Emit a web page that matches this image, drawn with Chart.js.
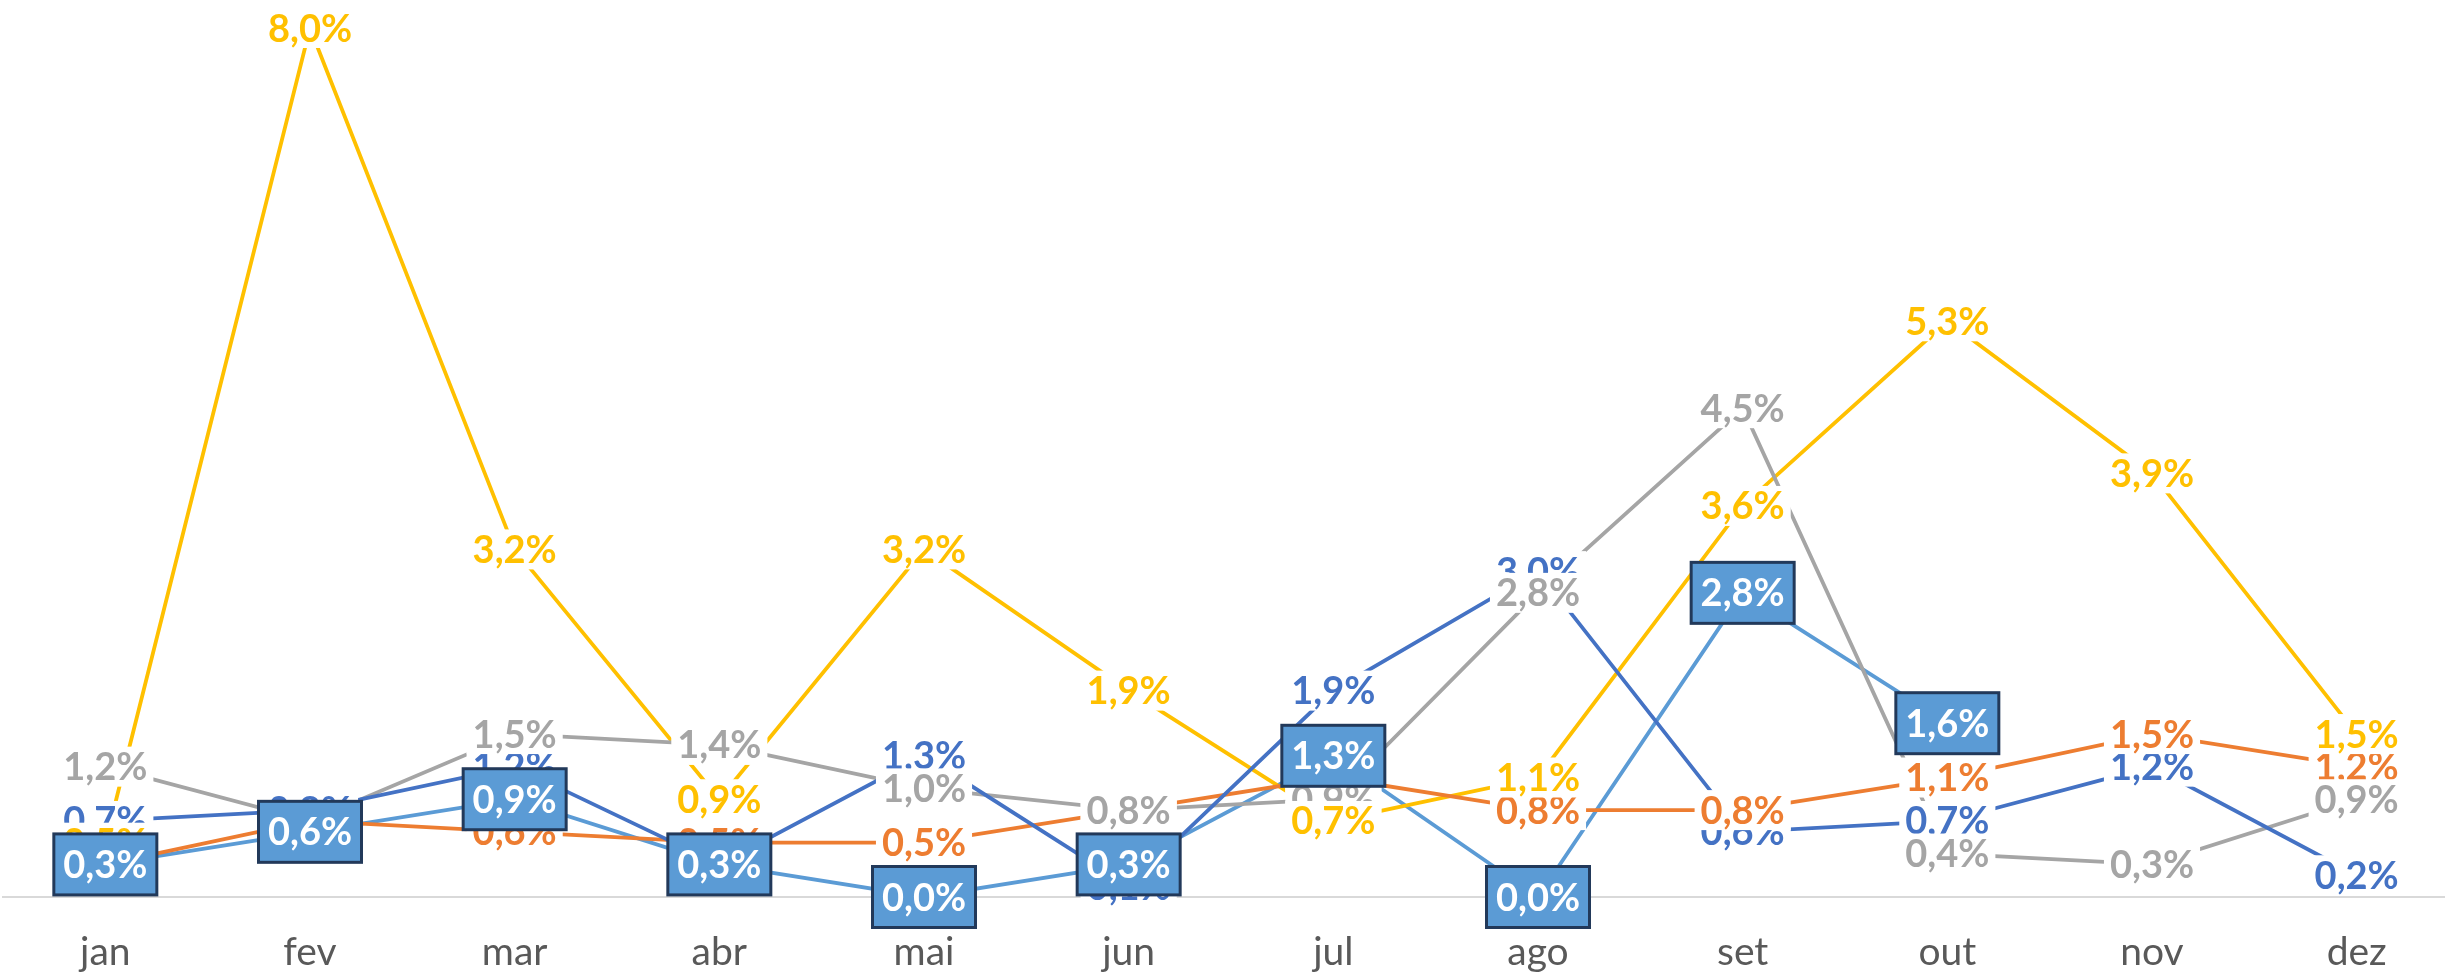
<!DOCTYPE html>
<html lang="pt">
<head>
  <meta charset="UTF-8" />
  <title>Variação mensal</title>
  <script src="https://cdn.jsdelivr.net/npm/chart.js"></script>
  <style>
    html, body {
      margin: 0;
      padding: 0;
      background: #ffffff;
      overflow: hidden;
    }
    #grafico {
      display: block;
    }
  </style>
</head>
<body>
  <canvas id="grafico" width="2462" height="973" style="width:2462px;height:973px"></canvas>

<script>
  // dados (em %)
  const meses = ["jan", "fev", "mar", "abr", "mai", "jun", "jul", "ago", "set", "out", "nov", "dez"];
  const serieAzul = [0.7, 0.8, 1.2, 0.3, 1.3, 0.1, 1.9, 3.0, 0.6, 0.7, 1.2, 0.2];
  const serieLaranja = [0.3, 0.7, 0.6, 0.5, 0.5, 0.8, 1.1, 0.8, 0.8, 1.1, 1.5, 1.2];
  const serieCinza = [1.2, 0.7, 1.5, 1.4, 1.0, 0.8, 0.9, 2.8, 4.5, 0.4, 0.3, 0.9];
  const serieAmarela = [0.5, 8.0, 3.2, 0.9, 3.2, 1.9, 0.7, 1.1, 3.6, 5.3, 3.9, 1.5];
  const serieAzulClaro = [0.3, 0.6, 0.9, 0.3, 0.0, 0.3, 1.3, 0.0, 2.8, 1.6, null, null];

  const fonteRotulo = "bold 38px Lato";

  function fmt(v) {
    return v.toFixed(1).replace(".", ",") + "%";
  }

  // rótulos de dados estilo Excel: caixa branca (ou azul com borda na última série)
  const rotulos = {
    id: "rotulos",
    afterDatasetsDraw(chart) {
      const ctx = chart.ctx;
      ctx.save();
      ctx.font = fonteRotulo;
      ctx.textAlign = "center";
      ctx.textBaseline = "alphabetic";
      chart.data.datasets.forEach((ds, i) => {
        const meta = chart.getDatasetMeta(i);
        meta.data.forEach((pt, j) => {
          const v = ds.data[j];
          if (v === null || v === undefined) return;
          const txt = fmt(v);
          const w = ctx.measureText(txt).width;
          if (ds.caixa) {
            const bw = 103, bh = 61;
            ctx.fillStyle = "#5B9BD5";
            ctx.fillRect(pt.x - bw / 2, pt.y - bh / 2, bw, bh);
            ctx.lineWidth = 3;
            ctx.strokeStyle = "#22395A";
            ctx.strokeRect(pt.x - bw / 2, pt.y - bh / 2, bw, bh);
            ctx.fillStyle = "#ffffff";
          } else {
            ctx.fillStyle = "#ffffff";
            ctx.fillRect(pt.x - w / 2 - 6, pt.y - 20, w + 12, 40);
            ctx.fillStyle = ds.borderColor;
          }
          ctx.fillText(txt, pt.x, pt.y + 13.5);
        });
      });
      ctx.restore();
    }
  };

  function serie(dados, cor, caixa) {
    return {
      data: dados,
      borderColor: cor,
      backgroundColor: cor,
      borderWidth: 3.8,
      pointRadius: 0,
      tension: 0,
      caixa: caixa
    };
  }

  new Chart(document.getElementById("grafico").getContext("2d"), {
    type: "line",
    data: {
      labels: meses,
      datasets: [
        serie(serieAzul, "#4472C4", false),
        serie(serieLaranja, "#ED7D31", false),
        serie(serieCinza, "#A5A5A5", false),
        serie(serieAmarela, "#FFC000", false),
        serie(serieAzulClaro, "#5B9BD5", true)
      ]
    },
    options: {
      responsive: false,
      animation: false,
      devicePixelRatio: 1,
      layout: { padding: { top: 28, left: 3, right: 3, bottom: 0 } },
      plugins: {
        legend: { display: false },
        tooltip: { enabled: false }
      },
      scales: {
        x: {
          offset: true,
          grid: { display: false, drawTicks: false },
          border: { display: true, color: "#D9D9D9", width: 2 },
          ticks: {
            color: "#595959",
            font: { family: "Lato", size: 39 },
            padding: 32,
            maxRotation: 0,
            autoSkip: false
          },
          afterFit: (s) => { s.height = 76; }
        },
        y: {
          display: false,
          min: 0,
          max: 8
        }
      }
    },
    plugins: [rotulos]
  });
</script>
</body>
</html>
